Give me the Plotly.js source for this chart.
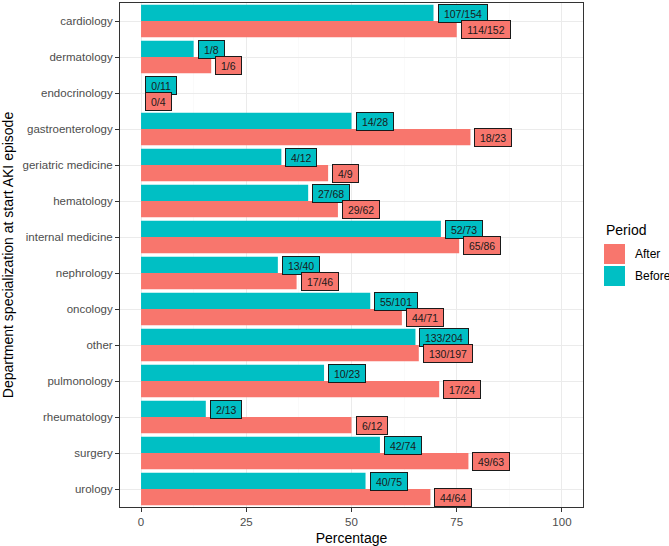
<!DOCTYPE html>
<html>
<head>
<meta charset="utf-8">
<script src="https://cdn.plot.ly/plotly-3.0.1.min.js"></script>
<style>html,body{margin:0;padding:0;background:#fff}#chart{width:669px;height:546px}</style>
</head>
<body>
<div id="chart"></div>
<script>
const departments = ["cardiology","dermatology","endocrinology","gastroenterology","geriatric medicine","hematology","internal medicine","nephrology","oncology","other","pulmonology","rheumatology","surgery","urology"];
const beforeN = [107,1,0,14,4,27,52,13,55,133,10,2,42,40];
const beforeTotal = [154,8,11,28,12,68,73,40,101,204,23,13,74,75];
const afterN = [114,1,0,18,4,29,65,17,44,130,17,6,49,44];
const afterTotal = [152,6,4,23,9,62,86,46,71,197,24,12,63,64];
const xTicks = [0,25,50,75,100];
const periods = ["After","Before"];

const FONT = "Liberation Sans, Arial, sans-serif";
const colAfter = "#F8766D", colBefore = "#00BFC4";
const pct = (n, t) => n.map((v, i) => 100 * v / t[i]);
const beforePct = pct(beforeN, beforeTotal);
const afterPct = pct(afterN, afterTotal);

const traces = [
  {type:"bar", orientation:"h", name:"Before", y:departments, x:beforePct, marker:{color:colBefore}, showlegend:false, hoverinfo:"none"},
  {type:"bar", orientation:"h", name:"After", y:departments, x:afterPct, marker:{color:colAfter}, showlegend:false, hoverinfo:"none"}
];

const LBL_SIZE = 10.5;
const boxWidth = t => (t.length - 1) * LBL_SIZE * 0.556 + LBL_SIZE * 0.278 + 6;
const annotations = [];
const labelStyle = {showarrow:false, xanchor:"left", yanchor:"middle", xshift:4, bordercolor:"#1a1a1a", borderwidth:1, borderpad:2,
  height:13, valign:"middle", align:"center", font:{size:LBL_SIZE, color:"#1a1a1a", family:FONT}};
departments.forEach((d, i) => {
  const tb = beforeN[i]+"/"+beforeTotal[i], ta = afterN[i]+"/"+afterTotal[i];
  annotations.push(Object.assign({}, labelStyle, {x:beforePct[i], y:d, xref:"x", yref:"y", text:tb, width:boxWidth(tb), yshift:8, bgcolor:colBefore}));
  annotations.push(Object.assign({}, labelStyle, {x:afterPct[i], y:d, xref:"x", yref:"y", text:ta, width:boxWidth(ta), yshift:-8, bgcolor:colAfter}));
});

// custom ggplot-style legend
const legendCols = [colAfter, colBefore];
const keyX0 = 1.0454, keyX1 = 1.0907;
const keyY = [[0.4821,0.5218],[0.4385,0.4782]];
const shapes = [];
periods.forEach((p, i) => {
  shapes.push({type:"rect", xref:"paper", yref:"paper", x0:keyX0, x1:keyX1, y0:keyY[i][0], y1:keyY[i][1], fillcolor:legendCols[i], line:{width:0}});
  annotations.push({xref:"paper", yref:"paper", x:1.108, y:(keyY[i][0]+keyY[i][1])/2, text:p, showarrow:false, xanchor:"left", yanchor:"middle",
    font:{size:12, color:"#000000", family:FONT}});
});
annotations.push({xref:"paper", yref:"paper", x:1.0454, y:0.5496, text:"Period", showarrow:false, xanchor:"left", yanchor:"middle",
  font:{size:14, color:"#000000", family:FONT}});

const layout = {
  width:669, height:546,
  margin:{l:120, r:86, t:3, b:39},
  paper_bgcolor:"#ffffff", plot_bgcolor:"#ffffff",
  font:{family:FONT, color:"#4D4D4D", size:11.5},
  barmode:"group", bargap:0.1, bargroupgap:0,
  showlegend:false,
  xaxis:{range:[-5,105], tickmode:"array", tickvals:xTicks, ticktext:xTicks.map(String),
    showgrid:true, gridcolor:"#EBEBEB", gridwidth:1, zeroline:false,
    minor:{tickmode:"array", tickvals:[12.5,37.5,62.5,87.5], showgrid:true, gridcolor:"#F5F5F5", gridwidth:0.5, ticklen:0},
    showline:true, mirror:true, linecolor:"#333333", linewidth:1,
    ticks:"outside", ticklen:4, tickcolor:"#333333", tickfont:{size:11.5, color:"#4D4D4D"},
    title:{text:"Percentage", font:{size:14, color:"#000000"}, standoff:6}},
  yaxis:{type:"category", categoryorder:"array", categoryarray:departments, autorange:"reversed",
    range:[departments.length - 0.4, -0.6],
    showgrid:true, gridcolor:"#EBEBEB", gridwidth:1, zeroline:false,
    showline:true, mirror:true, linecolor:"#333333", linewidth:1,
    ticks:"outside", ticklen:4, tickcolor:"#333333", tickfont:{size:11.5, color:"#4D4D4D"},
    title:{text:"Department specialization at start AKI episode", font:{size:14, color:"#000000"}, standoff:6}},
  shapes:shapes,
  annotations:annotations
};

Plotly.newPlot("chart", traces, layout, {displayModeBar:false, staticPlot:true});
</script>
</body>
</html>
